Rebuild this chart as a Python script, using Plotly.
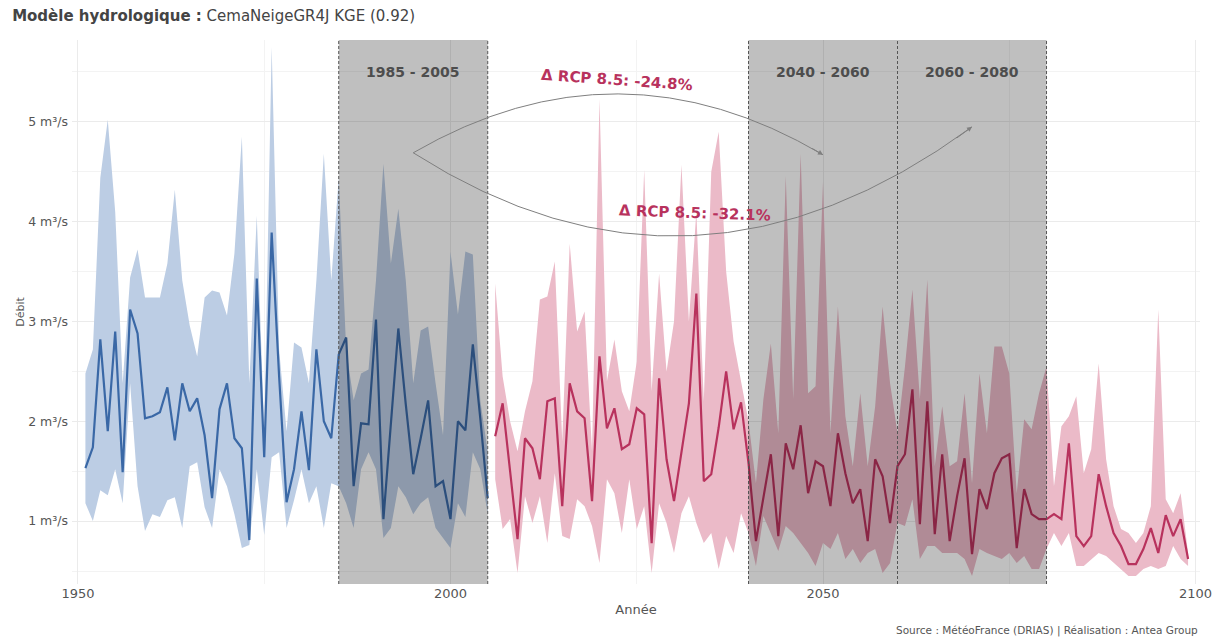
import plotly.graph_objects as go

# ---- data ----
years_hist = list(range(1951, 2006))
hist_mean = [1.53, 1.74, 2.82, 1.90, 2.90, 1.49, 3.12, 2.88, 2.03, 2.05,
             2.09, 2.34, 1.81, 2.38, 2.10, 2.23, 1.86, 1.23, 2.12, 2.38,
             1.83, 1.73, 0.81, 3.43, 1.64, 3.89, 2.45, 1.19, 1.52, 2.10,
             1.51, 2.72, 2.00, 1.83, 2.67, 2.84, 1.35, 1.98, 1.97, 3.02,
             1.02, 1.98, 2.93, 2.17, 1.47, 1.83, 2.21, 1.35, 1.40, 1.02,
             2.00, 1.91, 2.77, 2.03, 1.23]
hist_upper = [2.48, 2.72, 4.44, 5.02, 4.10, 2.38, 3.44, 3.72, 3.24, 3.24,
              3.24, 3.58, 4.32, 3.41, 2.96, 2.65, 3.24, 3.31, 3.29, 3.06,
              3.68, 4.85, 2.38, 4.06, 1.90, 5.75, 2.72, 1.90, 2.79, 2.74,
              2.38, 3.41, 4.68, 3.41, 4.44, 2.72, 2.21, 2.48, 2.52, 3.41,
              4.58, 3.58, 4.13, 3.41, 2.38, 2.91, 2.95, 2.38, 1.86, 3.70,
              3.07, 3.70, 3.67, 2.21, 1.69]
hist_lower = [1.18, 1.00, 1.31, 1.26, 1.52, 1.18, 2.38, 1.35, 0.90, 1.07,
              1.04, 1.21, 1.24, 0.93, 1.55, 1.59, 1.14, 0.93, 1.52, 1.35,
              1.07, 0.73, 0.76, 1.52, 0.86, 1.64, 1.69, 0.93, 1.21, 1.52,
              1.18, 1.35, 0.93, 1.38, 1.35, 1.18, 0.93, 1.52, 1.69, 1.52,
              0.83, 0.93, 1.35, 1.24, 1.07, 1.18, 1.24, 0.93, 0.83, 0.73,
              1.18, 1.04, 1.69, 1.52, 1.07]

years_proj = list(range(2006, 2100))
proj_mean = [1.85, 2.18, 1.50, 0.82, 1.83, 1.73, 1.42, 2.20, 2.23, 1.15,
             2.38, 2.10, 2.03, 1.20, 2.65, 1.93, 2.13, 1.72, 1.77, 2.13,
             2.07, 0.78, 2.43, 1.62, 1.20, 1.68, 2.18, 3.28, 1.40, 1.47,
             1.94, 2.50, 1.92, 2.19, 1.58, 0.80, 1.25, 1.67, 0.85, 1.78,
             1.52, 1.96, 1.28, 1.60, 1.55, 1.15, 1.88, 1.48, 1.18, 1.32,
             0.80, 1.62, 1.45, 0.98, 1.55, 1.67, 2.32, 0.97, 2.20, 0.87,
             1.67, 0.80, 1.25, 1.63, 0.67, 1.32, 1.12, 1.48, 1.63, 1.67,
             0.73, 1.32, 1.07, 1.02, 1.02, 1.07, 1.02, 1.78, 0.85, 0.75,
             0.85, 1.47, 1.15, 0.88, 0.75, 0.57, 0.57, 0.72, 0.93, 0.68,
             1.06, 0.85, 1.02, 0.62]
proj_upper = [3.38, 2.45, 2.00, 1.70, 2.10, 2.40, 3.22, 3.25, 3.60, 1.80,
              3.78, 2.90, 3.10, 1.70, 5.23, 2.40, 2.82, 2.30, 2.10, 2.60,
              4.52, 2.30, 3.48, 2.50, 3.00, 4.57, 3.00, 4.10, 2.20, 4.50,
              4.90, 3.50, 2.80, 2.40, 2.00, 1.38, 2.22, 2.78, 1.88, 4.46,
              2.22, 4.68, 2.28, 2.35, 4.40, 1.88, 3.15, 2.05, 1.55, 2.28,
              1.55, 2.15, 3.15, 2.38, 1.88, 2.55, 3.32, 2.22, 3.42, 1.55,
              2.15, 1.55, 1.60, 2.28, 1.38, 2.48, 1.88, 2.75, 2.75, 2.48,
              1.28, 2.02, 1.92, 2.28, 2.55, 1.35, 1.95, 2.05, 2.25, 1.48,
              1.72, 2.58, 1.62, 1.15, 0.92, 0.88, 0.78, 0.88, 1.15, 3.12,
              1.22, 1.08, 1.28, 0.68]
proj_lower = [1.42, 0.92, 1.02, 0.48, 1.25, 0.98, 1.25, 0.78, 1.48, 0.85,
              0.82, 1.22, 1.15, 0.95, 0.58, 1.42, 1.28, 0.88, 1.42, 0.92,
              1.15, 0.48, 1.18, 0.98, 0.68, 1.08, 1.25, 0.98, 0.78, 0.88,
              0.52, 0.85, 0.68, 1.08, 0.88, 0.55, 1.05, 0.88, 0.70, 0.95,
              0.88, 0.78, 0.68, 0.55, 0.78, 0.72, 0.88, 0.62, 0.72, 0.58,
              0.68, 0.72, 0.48, 0.58, 0.98, 0.95, 1.22, 0.62, 0.75, 0.75,
              0.68, 0.68, 0.68, 0.62, 0.45, 0.72, 0.68, 0.65, 0.62, 0.68,
              0.58, 0.65, 0.52, 0.52, 0.72, 0.88, 0.75, 0.88, 0.55, 0.55,
              0.62, 0.68, 0.65, 0.58, 0.52, 0.45, 0.45, 0.52, 0.55, 0.52,
              0.55, 0.75, 0.62, 0.55]

periods = [(1985, 2005), (2040, 2060), (2060, 2080)]
period_labels = ["1985 - 2005", "2040 - 2060", "2060 - 2080"]
deltas = ["\u0394 RCP 8.5: -24.8%", "\u0394 RCP 8.5: -32.1%"]

y_ticks = [1, 2, 3, 4, 5]
y_ticktext = [f"{v} m\u00b3/s" for v in y_ticks]
x_ticks = [1950, 2000, 2050, 2100]

BLUE = "#3a68a6"
BLUE_BAND = "#bccde4"
RED = "#b8325d"
RED_BAND = "#ebbac8"
FONT = "DejaVu Sans"

fig = go.Figure()

# uncertainty bands
fig.add_trace(go.Scatter(x=years_hist, y=hist_lower, mode="lines",
                         line=dict(width=0), hoverinfo="skip", showlegend=False))
fig.add_trace(go.Scatter(x=years_hist, y=hist_upper, mode="lines", fill="tonexty",
                         fillcolor=BLUE_BAND, line=dict(width=0), showlegend=False))
fig.add_trace(go.Scatter(x=years_proj, y=proj_lower, mode="lines",
                         line=dict(width=0), hoverinfo="skip", showlegend=False))
fig.add_trace(go.Scatter(x=years_proj, y=proj_upper, mode="lines", fill="tonexty",
                         fillcolor=RED_BAND, line=dict(width=0), showlegend=False))

# mean lines
fig.add_trace(go.Scatter(x=years_hist, y=hist_mean, mode="lines",
                         line=dict(color=BLUE, width=2.2), showlegend=False))
fig.add_trace(go.Scatter(x=years_proj, y=proj_mean, mode="lines",
                         line=dict(color=RED, width=2.2), showlegend=False))

# shaded periods + dashed borders
borders = set()
for (a, b), lab in zip(periods, period_labels):
    fig.add_shape(type="rect", x0=a, x1=b, y0=0, y1=1, xref="x", yref="paper",
                  fillcolor="black", opacity=0.25, line=dict(width=0), layer="above")
    borders.update([a, b])
    fig.add_annotation(x=(a + b) / 2, y=5.5, text=f"<b>{lab}</b>", showarrow=False,
                       font=dict(family=FONT, size=14, color="#4d4d4d"))
for xb in sorted(borders):
    fig.add_shape(type="line", x0=xb, x1=xb, y0=0, y1=1, xref="x", yref="paper",
                  line=dict(color="#555555", width=1, dash="3px,2px"), layer="above")

# curved arrows from reference period to future periods
ref_x = sum(periods[0]) / 2
start = (ref_x, 4.69)
ends = [(sum(periods[1]) / 2, 4.67), (sum(periods[2]) / 2, 4.95)]
bulge = [5.88, 2.90]
for (ex, ey), cy in zip(ends, bulge):
    cx = (start[0] + ex) / 2
    fig.add_shape(type="path", xref="x", yref="y", layer="above",
                  path=f"M {start[0]},{start[1]} Q {cx},{cy} {ex},{ey}",
                  line=dict(color="#7f7f7f", width=1))
    fig.add_annotation(x=ex, y=ey, ax=ex - 0.06 * (ex - cx), ay=ey - 0.06 * (ey - cy),
                       xref="x", yref="y", axref="x", ayref="y", text="",
                       showarrow=True, arrowhead=2, arrowsize=1, arrowwidth=1,
                       arrowcolor="#7f7f7f")

fig.add_annotation(x=2022.3, y=5.42, text=f"<b>{deltas[0]}</b>", showarrow=False,
                   textangle=4, font=dict(family=FONT, size=15, color=RED))
fig.add_annotation(x=2032.8, y=4.09, text=f"<b>{deltas[1]}</b>", showarrow=False,
                   textangle=2, font=dict(family=FONT, size=15, color=RED))

# source
fig.add_annotation(x=1.0, y=-0.085, xref="paper", yref="paper", xanchor="right",
                   yanchor="middle", showarrow=False,
                   text="Source : M\u00e9t\u00e9oFrance (DRIAS) | R\u00e9alisation : Antea Group",
                   font=dict(family=FONT, size=10.5, color="#555555"))

fig.update_layout(
    width=1214, height=637,
    margin=dict(l=72, r=14, t=40, b=53),
    paper_bgcolor="white", plot_bgcolor="white",
    font=dict(family=FONT, size=11, color="#555555"),
    title=dict(text="<b>Mod\u00e8le hydrologique :</b> CemaNeigeGR4J KGE (0.92)",
               x=0.01, xanchor="left", y=0.976, yanchor="middle",
               font=dict(family=FONT, size=15, color="#444444")),
    showlegend=False,
)
fig.update_xaxes(range=[1949.2, 2100.6], tickvals=x_ticks, showgrid=True,
                 gridcolor="#ebebeb", gridwidth=1, zeroline=False, showline=False,
                 ticks="", automargin=False,
                 minor=dict(tickmode="linear", tick0=1950, dtick=25, showgrid=True,
                            gridcolor="#f3f3f3", gridwidth=1),
                 title=dict(text="Ann\u00e9e", standoff=4,
                            font=dict(family=FONT, size=13, color="#555555")),
                 tickfont=dict(family=FONT, size=13, color="#555555"))
fig.update_yaxes(range=[0.37, 5.82], tickvals=y_ticks, ticktext=y_ticktext,
                 showgrid=True, gridcolor="#ebebeb", gridwidth=1, zeroline=False,
                 showline=False, ticks="", automargin=False, ticklabelstandoff=3,
                 minor=dict(tickmode="linear", tick0=0.5, dtick=1, showgrid=True,
                            gridcolor="#f3f3f3", gridwidth=1),
                 title=dict(text="D\u00e9bit", standoff=1,
                            font=dict(family=FONT, size=11, color="#555555")),
                 tickfont=dict(family=FONT, size=12.5, color="#555555"))

# the page body has a default 8px margin; drop it so the figure sits at 0,0
fig.write_html("out.html", config={"displayModeBar": False},
               post_script="document.body.style.margin='0';")
